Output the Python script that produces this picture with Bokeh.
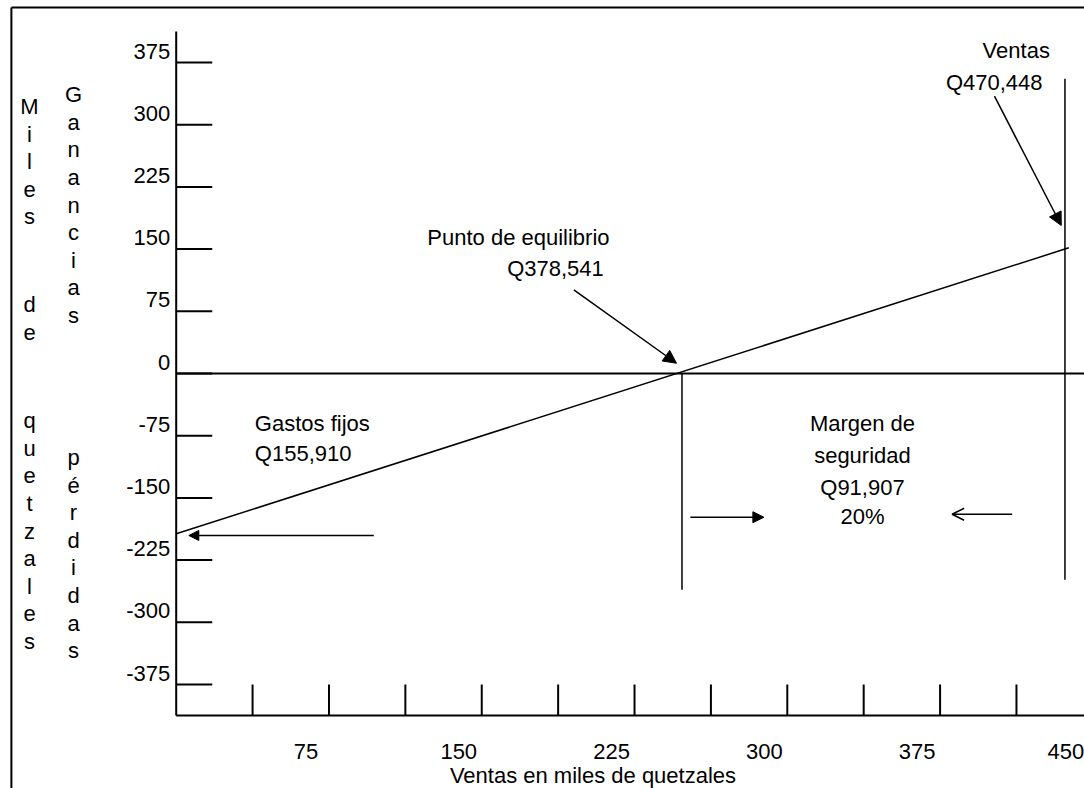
from bokeh.plotting import figure
from bokeh.models import Range1d, ColumnDataSource, Arrow, NormalHead, OpenHead
from bokeh.core.properties import value
from bokeh.embed import file_html
from bokeh.resources import INLINE

FONT = value("Liberation Sans")
FS = "22px"

# ---------------- data (schematic break-even chart, thousands of quetzales) ----------------
y_ticks = [375, 300, 225, 150, 75, 0, -75, -150, -225, -300, -375]
y_tick_labels = ["375", "300", "225", "150", "75", "0", "-75", "-150", "-225", "-300", "-375"]
x_ticks = [37.5, 75, 112.5, 150, 187.5, 225, 262.5, 300, 337.5, 375, 412.5]
x_label_values = [75, 150, 225, 300, 375, 450]
x_label_texts = ["75", "150", "225", "300", "375", "450"]

axis_limit = 412.5
x_axis_end = 446

# profit / loss line (from fixed costs to sales)
result_x = [0, 438.2]
result_y = [-193.3, 151.6]

breakeven_x = 248.3
breakeven_low = -260.8
sales_x = 436.3
sales_top = 355.4
sales_low = -248.8

# arrows: x_start, y_start, x_end, y_end
arrow_breakeven = [195.2, 100.9, 245.6, 12.4]
arrow_sales = [401.7, 334.4, 434.5, 178.5]
arrow_fixed = [97.0, -195.3, 6.2, -195.3]
arrow_margin_r = [252.4, -173.3, 288.5, -173.3]
arrow_margin_l = [410.4, -169.7, 380.9, -169.7]

# ---------------- figure ----------------
p = figure(width=1084, height=788,
           x_range=Range1d(-86.25, 445.9), y_range=Range1d(-500.4, 449.8),
           output_backend="svg", toolbar_location=None,
           x_axis_type=None, y_axis_type=None, min_border=0)
p.outline_line_color = None
p.background_fill_color = "white"
p.border_fill_color = "white"
p.grid.visible = False

# outer frame (left and top)
p.line([-80.9, -80.9], [-500.4, 441.3], line_color="black", line_width=2)
p.line([-80.9, 445.9], [441.3, 441.3], line_color="black", line_width=2)

# axes
p.line([0, 0], [-axis_limit, axis_limit], line_color="black", line_width=2)
p.line([0, x_axis_end], [-axis_limit, -axis_limit], line_color="black", line_width=2)
p.line([0, x_axis_end], [0, 0], line_color="black", line_width=2)

# tick marks
p.segment(x0=[0] * len(y_ticks), y0=y_ticks, x1=[17.7] * len(y_ticks), y1=y_ticks,
          line_color="black", line_width=2)
p.segment(x0=x_ticks, y0=[-axis_limit] * len(x_ticks), x1=x_ticks, y1=[-375] * len(x_ticks),
          line_color="black", line_width=2)

# tick labels
ysrc = ColumnDataSource(dict(x=[0] * len(y_ticks), y=y_ticks, t=y_tick_labels))
p.text(x="x", y="y", text="t", source=ysrc, x_offset=-6, y_offset=-11.5,
       text_align="right", text_baseline="middle", text_font=FONT,
       text_font_size=FS, text_color="black")
xsrc = ColumnDataSource(dict(x=x_label_values, y=[-axis_limit] * len(x_label_values),
                             t=x_label_texts, dx=[-23, -23, -23, -23, -23, -27]))
p.text(x="x", y="y", text="t", source=xsrc, x_offset="dx", y_offset=36,
       text_align="center", text_baseline="middle", text_font=FONT,
       text_font_size=FS, text_color="black")

# lines of the chart
p.line(result_x, result_y, line_color="black", line_width=1.5)
p.line([breakeven_x, breakeven_x], [0, breakeven_low], line_color="black", line_width=1.5)
p.line([sales_x, sales_x], [sales_top, sales_low], line_color="black", line_width=1.5)

# arrows
def add_arrow(a, head):
    p.add_layout(Arrow(end=head, x_start=a[0], y_start=a[1], x_end=a[2], y_end=a[3],
                       line_color="black", line_width=1.5))

add_arrow(arrow_breakeven, NormalHead(size=13, fill_color="black", line_color="black"))
add_arrow(arrow_sales, NormalHead(size=13, fill_color="black", line_color="black"))
add_arrow(arrow_fixed, NormalHead(size=10, fill_color="black", line_color="black"))
add_arrow(arrow_margin_r, NormalHead(size=11, fill_color="black", line_color="black"))
add_arrow(arrow_margin_l, OpenHead(size=12, line_color="black", line_width=1.5))

# stacked vertical words
stack_words = [("Miles", -72.0, 322.0), ("de", -72.0, 83.2), ("quetzales", -72.0, -56.7),
               ("Ganancias", -50.4, 336.4), ("pérdidas", -50.4, -101.3)]
step = 33.3
sx, sy, st = [], [], []
for word, wx, wy in stack_words:
    for i, ch in enumerate(word):
        sx.append(wx)
        sy.append(wy - i * step)
        st.append(ch)
p.text(x=sx, y=sy, text=st, text_align="center", text_baseline="middle",
       text_font=FONT, text_font_size=FS, text_color="black")

# annotations
ann_c = ColumnDataSource(dict(
    x=[412.4, 401.6, 168.0, 186.2, 336.9, 336.9, 336.9, 336.9, 204.6],
    y=[389.1, 351.3, 164.6, 126.6, -60.7, -98.9, -137.1, -172.2, -485.0],
    t=["Ventas", "Q470,448", "Punto de equilibrio", "Q378,541", "Margen de",
       "seguridad", "Q91,907", "20%", "Ventas en miles de quetzales"]))
p.text(x="x", y="y", text="t", source=ann_c, text_align="center", text_baseline="middle",
       text_font=FONT, text_font_size=FS, text_color="black")
ann_l = ColumnDataSource(dict(x=[38.6, 38.6], y=[-60.7, -96.8], t=["Gastos fijos", "Q155,910"]))
p.text(x="x", y="y", text="t", source=ann_l, text_align="left", text_baseline="middle",
       text_font=FONT, text_font_size=FS, text_color="black")

open("out.html", "w").write(file_html(p, INLINE))
